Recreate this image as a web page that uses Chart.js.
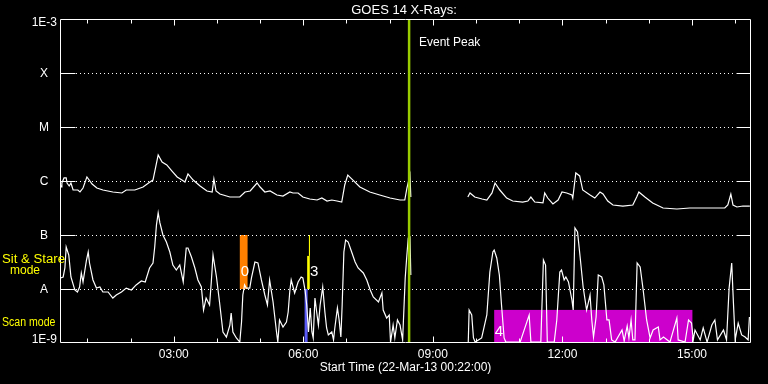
<!DOCTYPE html>
<html><head><meta charset="utf-8">
<script src="https://cdn.jsdelivr.net/npm/chart.js@4"></script>
<style>html,body{margin:0;padding:0;background:#000;}canvas{display:block}</style>
</head><body>
<canvas id="c" width="768" height="384"></canvas>
<script>
// Time axis in decimal hours on 22-Mar-13 (start 00:22)
const startHour = 22 / 60;
const endHour = startHour + 16;

// GOES 14 1-8 A channel (upper curve); null marks the data gap
const longTime = [0.37,0.39,0.41,0.46,0.51,0.53,0.58,0.62,0.67,0.78,0.83,0.90,0.99,1.11,1.22,1.36,1.59,1.80,1.90,2.10,2.29,2.45,2.52,2.64,2.73,2.84,2.96,3.08,3.19,3.26,3.33,3.45,3.61,3.77,3.89,3.93,3.98,4.07,4.30,4.53,4.65,4.77,4.93,5.00,5.11,5.23,5.39,5.53,5.69,5.76,5.88,5.99,6.15,6.32,6.43,6.55,6.66,6.78,6.89,6.96,7.03,7.15,7.31,7.54,7.77,8.01,8.24,8.35,8.40,8.47,8.49,
  9.00,
  9.81,9.86,9.97,10.14,10.25,10.37,10.44,10.55,10.71,10.85,11.08,11.20,11.27,11.36,11.55,11.59,11.66,11.78,11.90,11.99,12.10,12.22,12.24,12.31,12.40,12.47,12.64,12.75,12.87,12.94,13.05,13.17,13.40,13.63,13.72,13.77,13.91,14.09,14.33,14.65,14.95,15.25,15.58,15.76,15.83,15.90,15.95,16.04,16.18,16.34];
const longFlux = [8.80e-7,7.74e-7,9.18e-7,1.14e-6,1.14e-6,9.18e-7,8.08e-7,9.18e-7,6.81e-7,6.81e-7,6.26e-7,7.42e-7,1.19e-6,8.80e-7,7.42e-7,6.81e-7,6.26e-7,6.00e-7,6.81e-7,6.81e-7,7.74e-7,9.58e-7,1.04e-6,3.03e-6,2.25e-6,1.98e-6,1.53e-6,1.19e-6,1.04e-6,9.58e-7,1.35e-6,1.04e-6,8.08e-7,6.53e-7,6.26e-7,1.09e-6,6.53e-7,5.74e-7,5.05e-7,5.05e-7,6.26e-7,6.53e-7,9.18e-7,7.74e-7,6.26e-7,6.53e-7,5.51e-7,5.27e-7,6.26e-7,6.00e-7,6.00e-7,5.05e-7,4.64e-7,4.45e-7,4.84e-7,4.26e-7,4.45e-7,4.26e-7,4.08e-7,8.43e-7,1.29e-6,1.04e-6,7.74e-7,6.26e-7,5.51e-7,4.84e-7,4.45e-7,4.45e-7,7.42e-7,1.29e-6,5.05e-7,
  null,
  5.05e-7,6.00e-7,5.05e-7,4.64e-7,4.45e-7,6.00e-7,9.18e-7,6.81e-7,4.84e-7,4.26e-7,4.08e-7,4.26e-7,5.05e-7,4.08e-7,3.92e-7,6.00e-7,4.84e-7,3.75e-7,4.45e-7,6.26e-7,6.00e-7,5.51e-7,4.84e-7,1.41e-6,1.24e-6,6.81e-7,5.51e-7,4.84e-7,6.26e-7,5.74e-7,4.26e-7,3.59e-7,3.44e-7,3.59e-7,5.05e-7,6.26e-7,5.05e-7,3.92e-7,3.16e-7,3.03e-7,3.16e-7,3.16e-7,3.16e-7,3.16e-7,3.59e-7,5.74e-7,3.59e-7,3.30e-7,3.44e-7,3.44e-7];

// GOES 14 0.5-4 A channel (lower curve)
const shortTime = [0.38,0.44,0.48,0.51,0.57,0.62,0.71,0.77,0.82,0.86,0.90,0.98,1.02,1.05,1.13,1.21,1.29,1.36,1.48,1.59,1.67,1.79,1.90,2.02,2.13,2.25,2.34,2.44,2.52,2.56,2.60,2.64,2.68,2.75,2.83,2.91,2.98,3.06,3.14,3.22,3.29,3.33,3.41,3.49,3.56,3.64,3.69,3.75,3.83,3.87,3.91,3.99,4.06,4.14,4.22,4.30,4.33,4.37,4.45,4.53,4.57,4.60,4.64,4.68,4.76,4.80,4.88,4.95,5.03,5.11,5.17,5.22,5.30,5.38,5.41,5.45,5.53,5.61,5.65,5.69,5.72,5.80,5.88,5.95,5.99,6.04,6.08,6.12,6.16,6.20,6.23,6.27,6.31,6.35,6.39,6.43,6.45,6.50,6.54,6.58,6.66,6.70,6.73,6.79,6.83,6.87,6.90,6.94,6.98,7.04,7.12,7.20,7.27,7.39,7.47,7.55,7.62,7.74,7.82,7.85,7.93,7.99,8.02,8.08,8.12,8.18,8.24,8.30,8.36,8.39,8.43,8.47,8.49,
  9.00,
  9.82,9.84,9.90,9.94,9.98,10.13,10.25,10.32,10.39,10.42,10.48,10.54,10.59,10.65,10.69,11.02,11.23,11.27,11.50,11.56,11.61,11.65,11.81,11.87,11.94,11.98,12.04,12.08,12.14,12.22,12.25,12.29,12.35,12.41,12.48,12.56,12.64,12.68,12.72,12.78,12.83,12.91,12.96,13.03,13.08,13.14,13.22,13.38,13.43,13.50,13.54,13.59,13.63,13.68,13.73,13.80,13.87,13.95,14.03,14.10,14.22,14.26,14.34,14.49,14.65,14.68,14.84,14.92,14.99,15.03,15.07,15.19,15.26,15.35,15.46,15.53,15.59,15.73,15.80,15.86,15.92,15.96,16.00,16.07,16.15,16.23,16.30,16.33];
const shortFlux = [1.60e-8,1.67e-8,2.45e-8,6.00e-8,4.26e-8,1.67e-8,9.58e-9,8.80e-9,1.09e-8,1.98e-8,1.35e-8,3.44e-8,4.84e-8,3.03e-8,1.47e-8,1.04e-8,1.09e-8,8.80e-9,8.80e-9,6.81e-9,7.74e-9,8.80e-9,1.04e-8,9.58e-9,1.19e-8,1.41e-8,1.35e-8,2.45e-8,3.03e-8,6.00e-8,1.53e-7,2.56e-7,1.67e-7,1.00e-7,7.42e-8,4.84e-8,2.78e-8,2.25e-8,2.78e-8,1.35e-8,5.74e-8,5.74e-8,3.92e-8,2.45e-8,1.47e-8,1.09e-8,4.08e-9,6.81e-9,5.05e-9,1.35e-8,4.26e-8,1.67e-8,5.74e-9,1.60e-9,1.29e-9,2.15e-9,3.59e-9,1.60e-9,1.24e-9,1.04e-9,2.45e-9,7.74e-9,1.19e-8,1.04e-8,1.04e-8,1.60e-8,3.16e-8,3.03e-8,1.47e-8,7.74e-9,5.05e-9,1.47e-8,5.74e-9,1.60e-9,1.04e-9,2.67e-9,1.98e-9,2.45e-9,3.75e-9,9.58e-9,1.47e-8,8.43e-9,1.35e-8,1.67e-8,1.60e-8,9.58e-9,5.05e-9,1.60e-9,4.45e-9,1.60e-9,1.24e-9,6.81e-9,3.75e-9,2.15e-9,5.05e-9,8.43e-9,1.09e-8,3.75e-9,1.90e-9,1.41e-9,1.60e-9,1.14e-9,1.90e-9,4.45e-9,2.67e-9,1.29e-9,5.05e-9,4.84e-8,8.08e-8,7.42e-8,4.84e-8,3.16e-8,2.45e-8,1.98e-8,1.47e-8,9.58e-9,7.11e-9,5.74e-9,8.43e-9,4.08e-9,2.90e-9,3.30e-9,1.04e-9,2.15e-9,1.24e-9,2.67e-9,2.15e-9,1.14e-9,1.60e-8,3.44e-8,8.80e-8,9.18e-8,1.82e-8,
  null,
  1.04e-9,4.08e-9,3.30e-9,1.24e-9,1.04e-9,1.24e-9,3.30e-9,2.06e-8,4.84e-8,5.27e-8,3.75e-8,1.82e-8,5.05e-9,1.24e-9,1.04e-9,1.04e-9,3.30e-9,1.04e-9,1.04e-9,3.44e-8,2.78e-8,1.04e-9,1.04e-9,2.67e-9,2.06e-8,2.25e-8,1.47e-8,1.67e-8,1.35e-8,6.26e-9,4.08e-9,1.35e-7,1.14e-7,3.92e-8,1.09e-8,4.08e-9,7.74e-9,2.67e-9,1.29e-9,3.03e-9,1.82e-8,1.67e-8,1.19e-8,2.67e-9,2.67e-9,1.14e-9,1.04e-9,1.74e-9,1.09e-9,2.06e-9,1.24e-9,2.67e-9,1.14e-9,1.14e-9,3.03e-8,2.56e-8,9.58e-9,2.67e-9,1.24e-9,1.74e-9,1.98e-9,1.14e-9,1.29e-9,1.04e-9,2.90e-9,1.14e-9,1.04e-9,2.67e-9,2.34e-9,1.14e-9,1.74e-9,1.14e-9,1.90e-9,1.04e-9,2.15e-9,2.67e-9,1.14e-9,1.74e-9,1.14e-9,1.04e-8,3.03e-8,5.51e-9,1.14e-9,2.34e-9,1.41e-9,1.29e-9,1.14e-9,3.03e-9];

// Axis ticks and labels
const hourTicks = [1,2,3,4,5,6,7,8,9,10,11,12,13,14,15,16];
const labelHours = [3,6,9,12,15];
const hourLabels = ["03:00","06:00","09:00","12:00","15:00"];
const levelValues = [1e-3,1e-4,1e-5,1e-6,1e-7,1e-8,1e-9];
const levelLabels = ["1E-3","X","M","C","B","A","1E-9"];

// Event peak and observing-mode boxes
const eventPeakHour = 8.45;
const boxStart = [4.53, 6.09, 6.13, 6.03, 10.42];
const boxEnd   = [4.71, 6.15, 6.155, 6.10, 15.01];
const boxLow   = [1e-8, 1e-8, 4.1e-8, 1e-9, 1e-9];
const boxHigh  = [1e-7, 4.1e-8, 1e-7, 1e-8, 4.1e-9];
const boxKind  = ["orange","yellow","yellow","blue","magenta"];
const boxLabelText = ["0","3","4"];
const boxLabelHour = [4.65, 6.25, 10.53];
const boxLabelFlux = [2.06e-8, 2.11e-8, 1.6e-9];

const colors = {orange:"#ff8000", yellow:"#ffff00", blue:"#5a5af5", magenta:"#cc00cc"};
const FONT = '"Liberation Sans", Arial, sans-serif';

function pts(t, f){ return t.map((x,i)=>({x:x, y:f[i]})); }

const decor = {
  id: 'decor',
  beforeDraw(chart){
    const c = chart.ctx;
    c.save(); c.fillStyle = '#000'; c.fillRect(0,0,chart.width,chart.height); c.restore();
  },
  beforeDatasetsDraw(chart){
    const c = chart.ctx, xs = chart.scales.x, ys = chart.scales.y, a = chart.chartArea;
    c.save();
    for (let i=0;i<boxStart.length;i++){
      const x1 = xs.getPixelForValue(boxStart[i]), x2 = xs.getPixelForValue(boxEnd[i]);
      const y1 = ys.getPixelForValue(boxHigh[i]), y2 = ys.getPixelForValue(boxLow[i]);
      c.fillStyle = colors[boxKind[i]];
      c.fillRect(x1, y1, x2-x1, y2-y1);
    }
    c.strokeStyle = '#fff'; c.lineWidth = 1; c.setLineDash([1,3]);
    for (let i=1;i<levelValues.length-1;i++){
      const y = Math.round(ys.getPixelForValue(levelValues[i])) + 0.5;
      c.beginPath(); c.moveTo(a.left+16, y); c.lineTo(a.right-15, y); c.stroke();
    }
    c.setLineDash([]);
    c.restore();
  },
  afterDatasetsDraw(chart){
    const c = chart.ctx, xs = chart.scales.x, ys = chart.scales.y, a = chart.chartArea;
    c.save();
    const ex = xs.getPixelForValue(eventPeakHour);
    c.strokeStyle = '#99cc00'; c.lineWidth = 2.5;
    c.beginPath(); c.moveTo(ex, a.top); c.lineTo(ex, a.bottom); c.stroke();
    c.fillStyle = '#fff'; c.font = '15px ' + FONT; c.textAlign = 'center'; c.textBaseline = 'middle';
    for (let i=0;i<boxLabelText.length;i++){
      c.fillText(boxLabelText[i], xs.getPixelForValue(boxLabelHour[i]), ys.getPixelForValue(boxLabelFlux[i]));
    }
    c.strokeStyle = '#fff'; c.lineWidth = 1;
    const L = Math.round(a.left)+0.5, R = Math.round(a.right)-0.5, T = Math.round(a.top)+0.5, B = Math.round(a.bottom)-0.5;
    c.beginPath(); c.rect(L, T, R-L, B-T); c.stroke();
    for (let i=1;i<levelValues.length-1;i++){
      const y = Math.round(ys.getPixelForValue(levelValues[i])) + 0.5;
      c.beginPath(); c.moveTo(L, y); c.lineTo(L+15, y); c.moveTo(R, y); c.lineTo(R-14, y); c.stroke();
    }
    hourTicks.forEach(h => {
      const x = Math.round(xs.getPixelForValue(h)) + 0.5;
      const len = (h % 3 === 0) ? 6 : 4;
      c.beginPath(); c.moveTo(x, T); c.lineTo(x, T+len); c.moveTo(x, B); c.lineTo(x, B-len); c.stroke();
    });
    c.fillStyle = '#fff'; c.font = '12px ' + FONT; c.textBaseline = 'middle';
    levelLabels.forEach((lab, i) => {
      let y = ys.getPixelForValue(levelValues[i]);
      if (i === 0) { c.textAlign = 'right'; c.fillText(lab, 57, y+4); }
      else if (i === levelLabels.length-1) { c.textAlign = 'right'; c.fillText(lab, 57, y-3); }
      else { c.textAlign = 'center'; c.fillText(lab, 44, y+1); }
    });
    c.textAlign = 'center';
    labelHours.forEach((h, i) => c.fillText(hourLabels[i], xs.getPixelForValue(h), 355));
    c.fillText('Start Time (22-Mar-13 00:22:00)', (a.left+a.right)/2, 368);
    c.font = '13px ' + FONT;
    c.fillText('GOES 14 X-Rays:', 404, 10);
    c.font = '12px ' + FONT; c.textAlign = 'left';
    c.fillText('Event Peak', 419, 43);
    c.fillStyle = '#ffff00';
    c.save(); c.translate(2, 260); c.scale(1.1, 1); c.fillText('Sit & Stare', 0, 0); c.restore();
    c.textAlign = 'center'; c.fillText('mode', 25, 271);
    c.textAlign = 'left';
    c.save(); c.translate(2, 323); c.scale(0.88, 1); c.fillText('Scan mode', 0, 0); c.restore();
    c.restore();
  }
};

new Chart(document.getElementById('c'), {
  type: 'line',
  data: {
    datasets: [
      {label:'1-8 A', data: pts(longTime, longFlux), borderColor:'#fff', borderWidth:1.2, pointRadius:0, tension:0, spanGaps:false},
      {label:'0.5-4 A', data: pts(shortTime, shortFlux), borderColor:'#fff', borderWidth:1.2, pointRadius:0, tension:0, spanGaps:false}
    ]
  },
  options: {
    responsive:false, animation:false, devicePixelRatio:1,
    layout:{padding:{left:60, top:19, right:17, bottom:41}},
    plugins:{legend:{display:false}, tooltip:{enabled:false}, title:{display:false}},
    scales:{
      x:{type:'linear', min:startHour, max:endHour, display:false},
      y:{type:'logarithmic', min:1e-9, max:1e-3, display:false}
    }
  },
  plugins:[decor]
});
</script>
</body></html>
